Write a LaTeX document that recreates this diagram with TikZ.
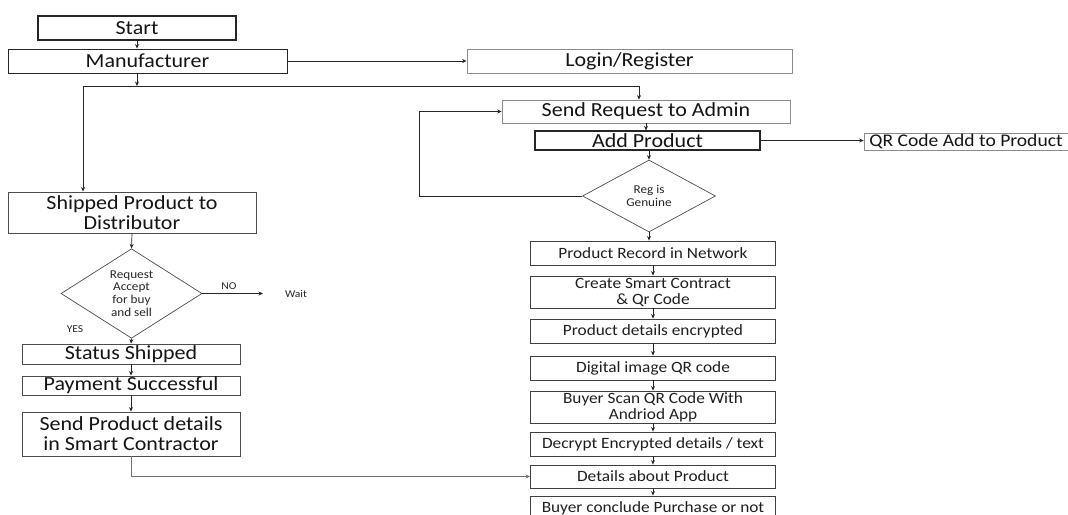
\documentclass[tikz,border=0pt]{standalone}
\usepackage{fontspec}
\setmainfont{Carlito}[FakeStretch=1.1]
\usetikzlibrary{arrows.meta, shapes.geometric}

\begin{document}
\begin{tikzpicture}[x=1pt, y=-1pt, >={Stealth[length=4.5pt,width=4pt]},
    bigbox/.style={draw=black!85, line width=0.9pt, text=black!92, inner sep=0pt, align=center, font=\fontsize{20}{20}\selectfont},
    litebox/.style={bigbox, draw=black!45, line width=0.8pt},
    stepbox/.style={draw=black!75, line width=0.9pt, text=black!88, inner sep=0pt, minimum width=245pt, align=center, font=\fontsize{15.7}{16}\selectfont},
    decide/.style={diamond, draw=black!70, line width=0.7pt, inner sep=0pt, align=center, text=black!85, font=\fontsize{12}{12.8}\selectfont},
    flow/.style={->, draw=black!85, line width=0.7pt},
    tag/.style={inner sep=0pt, text=black!85, font=\fontsize{10.5}{10.5}\selectfont}]

    % Page frame
    \clip (0,0) rectangle (1068,514);

    % Top row
    \node[bigbox, line width=1.2pt, minimum width=198pt, minimum height=24pt] (start) at (137,28) {Start};
    \node[bigbox, minimum width=279pt, minimum height=24pt] (manu) at (147.5,61) {Manufacturer};
    \node[litebox, minimum width=325pt, minimum height=24pt] (login) at (629.5,61) {Login/Register};
    \draw[flow] (start.south) -- (start.south |- manu.north);
    \draw[flow] (manu.east) -- (login.west);

    % Split below the manufacturer
    \coordinate (split) at (137,86);
    \coordinate (jl) at (83,86);
    \coordinate (jr) at (639,86);
    \draw[flow] (start.south |- manu.south) -- (split);

    % Admin side
    \node[litebox, minimum width=288pt, minimum height=23pt] (send) at (646,111.5) {Send Request to Admin};
    \node[bigbox, line width=1.2pt, minimum width=225pt, minimum height=19pt] (add) at (647.5,140.5) {Add Product};
    \node[litebox, minimum width=204pt, minimum height=17pt, font=\fontsize{17.8}{17.8}\selectfont] (qr) at (966,141.5) {QR Code Add to Product};
    \node[decide, minimum width=133pt, minimum height=72pt] (genuine) at (649,196) {Reg is\\Genuine};
    \coordinate (back) at (419,111.5);
    \draw[flow] (jl) -- (jr) -- (jr |- send.north);
    \draw[flow] (send.south) -- (send.south |- add.north);
    \draw[flow] (add.east) -- (add.east -| qr.west);
    \draw[flow] (genuine.north |- add.south) -- (genuine.north);
    \draw[flow] (genuine.west) -| (back) -- (send.west);

    % Product chain
    \foreach \name/\y/\h/\txt in {rec/253/24/{Product Record in Network},
        contract/292/32/{Create Smart Contract\\\& Qr Code},
        enc/331/24/{Product details encrypted},
        img/368/24/{Digital image QR code},
        scan/407/32/{Buyer Scan QR Code With\\Andriod App},
        decrypt/444/24/{Decrypt Encrypted details / text},
        details/476.5/23/{Details about Product},
        conclude/508/24/{Buyer conclude Purchase or not}} {
        \node[stepbox, minimum height=\h pt] (\name) at (653,\y) {\txt};
    }
    \draw[flow] (genuine.south) -- (genuine.south |- rec.north);
    \foreach \a/\b in {rec/contract, contract/enc, enc/img, img/scan, scan/decrypt, decrypt/details, details/conclude} {
        \draw[flow] (\a) -- (\b);
    }

    % Distributor side
    \node[bigbox, draw=black!70, minimum width=248pt, minimum height=41pt] (ship) at (132,212.5) {Shipped Product to\\Distributor};
    \node[decide, minimum width=141pt, minimum height=77pt] (accept) at (131.5,293.5) {Request\\Accept\\for buy\\and sell};
    \node[tag] (wait) at (296,294) {Wait};
    \coordinate (waitend) at (263,293.5);
    \node[tag] (no) at (229,286) {NO};
    \node[tag] (yes) at (75,329) {YES};
    \node[bigbox, draw=black!70, minimum width=218pt, minimum height=20pt] (status) at (131,354) {Status Shipped};
    \node[bigbox, draw=black!70, minimum width=218pt, minimum height=19pt] (pay) at (131,385.5) {Payment Successful};
    \node[bigbox, draw=black!70, minimum width=218pt, minimum height=44pt] (sendsc) at (131,434) {Send Product details\\in Smart Contractor};
    \draw[flow] (jl) -- (jl |- ship.north);
    \draw[flow] (ship.south) -- (accept.north);
    \draw[flow] (accept.east) -- (waitend);
    \draw[flow] (accept.south) -- (status.north);
    \draw[flow] (status) -- (pay);
    \draw[flow] (pay) -- (sendsc);
    \draw[flow, draw=black!55] (sendsc.south) |- (details.west);
\end{tikzpicture}
\end{document}
